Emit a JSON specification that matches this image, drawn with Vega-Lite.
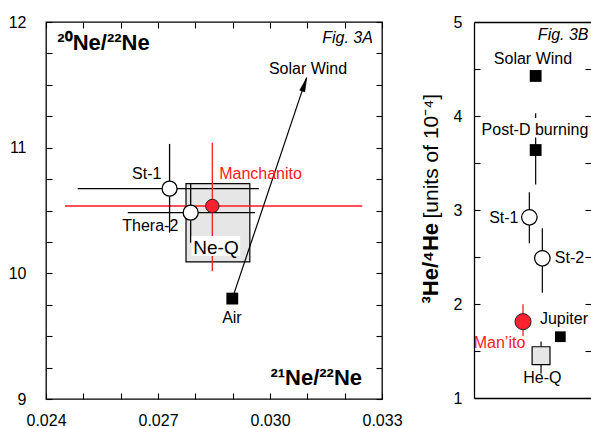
{
  "$schema": "https://vega.github.io/schema/vega-lite/v6.json",
  "padding": {"left": 7, "top": 13, "right": 0, "bottom": 0},
  "bounds": "flush",
  "spacing": 92,
  "config": {
    "font": "Liberation Sans",
    "axis": {"grid": false, "labelFontSize": 16, "labelColor": "black", "tickColor": "black", "domainColor": "black", "titleColor": "black", "labelFont": "Liberation Sans", "titleFont": "Liberation Sans", "tickWidth": 1.1}
  },
  "datasets": {
    "ne": [
      {"name": "St-1", "x": 0.02731, "y": 10.674, "xlo": 0.02485, "xhi": 0.0297, "ylo": 10.324, "yhi": 11.03},
      {"name": "Thera-2", "x": 0.027875, "y": 10.483, "xlo": 0.02619, "xhi": 0.0296, "ylo": 10.244, "yhi": 10.717},
      {"name": "Manchanito", "x": 0.028455, "y": 10.536, "xlo": 0.02451, "xhi": 0.03247, "ylo": 10.019, "yhi": 11.04},
      {"name": "Air", "x": 0.02899, "y": 9.799}
    ],
    "neq": [{"name": "Ne-Q", "x1": 0.02775, "x2": 0.02946, "y1": 10.091, "y2": 10.714}],
    "neqbg": [{"name": "Ne-Q", "x1": 0.0279, "x2": 0.0292, "y1": 10.138, "y2": 10.298}],
    "arrow": [{"o": 0, "x": 0.02899, "y": 9.799}, {"o": 1, "x": 0.03098, "y": 11.557}],
    "arrowhead": [{"x": 0.030924, "y": 11.504}],
    "nelab": [
      {"name": "St-1", "text": "St-1", "x": 0.026697, "y": 10.788},
      {"name": "Manchanito", "text": "Manchanito", "x": 0.029746, "y": 10.788},
      {"name": "Thera-2", "text": "Thera-2", "x": 0.026794, "y": 10.377},
      {"name": "Air", "text": "Air", "x": 0.02898, "y": 9.648},
      {"name": "Solar Wind", "text": "Solar Wind", "x": 0.031018, "y": 11.626}
    ],
    "neqlab": [{"text": "Ne-Q", "x": 0.028554, "y": 10.204}],
    "netitle": [
      {"text": "²⁰Ne/²²Ne", "x": 0.02554, "y": 11.833},
      {"text": "²¹Ne/²²Ne", "x": 0.031238, "y": 9.17}
    ],
    "nefig": [{"text": "Fig. 3A", "x": 0.032076, "y": 11.873}],
    "he": [
      {"name": "Solar Wind", "x": 0.527, "y": 4.426},
      {"name": "Post-D burning", "x": 0.527, "y": 3.638},
      {"name": "St-1", "x": 0.473, "y": 2.922},
      {"name": "St-2", "x": 0.584, "y": 2.486},
      {"name": "Man’ito", "x": 0.419, "y": 1.812},
      {"name": "Jupiter", "x": 0.738, "y": 1.652},
      {"name": "He-Q", "x": 0.573, "y": 1.45}
    ],
    "hebars": [
      {"name": "Post-D burning", "x": 0.527, "lo": 3.27, "hi": 3.77},
      {"name": "Post-D burning", "x": 0.527, "lo": 3.98, "hi": 4.03},
      {"name": "St-1", "x": 0.473, "lo": 2.646, "hi": 3.188},
      {"name": "St-2", "x": 0.584, "lo": 2.12, "hi": 2.805},
      {"name": "Man’ito", "x": 0.419, "lo": 1.66, "hi": 1.997},
      {"name": "He-Q", "x": 0.573, "lo": 1.26, "hi": 1.6}
    ],
    "helab": [
      {"name": "Solar Wind", "x": 0.504, "y": 4.61},
      {"name": "Post-D burning", "x": 0.521, "y": 3.851},
      {"name": "St-1", "x": 0.255, "y": 2.915},
      {"name": "St-2", "x": 0.816, "y": 2.486},
      {"name": "Man’ito", "x": 0.218, "y": 1.582},
      {"name": "Jupiter", "x": 0.769, "y": 1.837},
      {"name": "He-Q", "x": 0.584, "y": 1.21}
    ],
    "hefig": [{"text": "Fig. 3B", "x": 0.979, "y": 4.862}]
  },
  "hconcat": [
    {
      "width": 336,
      "height": 377,
      "view": {"stroke": "black", "strokeWidth": 1.3},
      "resolve": {"axis": {"x": "independent", "y": "independent"}},
      "layer": [
        {
          "data": {"name": "neq"},
          "mark": {"type": "rect", "fill": "#e6e6e6", "stroke": "black", "strokeWidth": 1.2},
          "encoding": {
            "x": {"field": "x1", "type": "quantitative", "scale": {"domain": [0.024, 0.033], "nice": false, "zero": false}, "axis": null},
            "x2": {"field": "x2"},
            "y": {"field": "y1", "type": "quantitative", "scale": {"domain": [9, 12], "nice": false, "zero": false}, "axis": null},
            "y2": {"field": "y2"}
          }
        },
        {
          "data": {"name": "ne"},
          "transform": [{"filter": "isValid(datum.xlo)"}],
          "mark": {"type": "rule", "strokeWidth": 1.3},
          "encoding": {
            "x": {"field": "xlo", "type": "quantitative", "scale": {"domain": [0.024, 0.033], "nice": false, "zero": false},
              "axis": {"orient": "bottom", "values": [0.024, 0.025, 0.026, 0.027, 0.028, 0.029, 0.03, 0.031, 0.032, 0.033], "labelExpr": "round(datum.value*1000) % 3 == 0 ? format(datum.value, '.3f') : ''", "tickSize": -6, "labelPadding": 19, "domain": false, "title": null, "labelFlush": false}},
            "x2": {"field": "xhi"},
            "y": {"field": "y", "type": "quantitative", "scale": {"domain": [9, 12], "nice": false, "zero": false},
              "axis": {"orient": "left", "values": [9, 9.25, 9.5, 9.75, 10, 10.25, 10.5, 10.75, 11, 11.25, 11.5, 11.75, 12], "labelExpr": "datum.value % 1 == 0 ? format(datum.value, 'd') : ''", "tickSize": -6, "labelPadding": 26, "domain": false, "title": null, "labelFlush": false}},
            "color": {"condition": {"test": "datum.name == 'Manchanito'", "value": "#ff1a22"}, "value": "black"}
          }
        },
        {
          "data": {"name": "ne"},
          "transform": [{"filter": "isValid(datum.ylo)"}],
          "mark": {"type": "rule", "strokeWidth": 1.3},
          "encoding": {
            "x": {"field": "x", "type": "quantitative", "scale": {"domain": [0.024, 0.033], "nice": false, "zero": false},
              "axis": {"orient": "top", "values": [0.024, 0.025, 0.026, 0.027, 0.028, 0.029, 0.03, 0.031, 0.032, 0.033], "labels": false, "tickSize": -6, "domain": false, "title": null}},
            "y": {"field": "ylo", "type": "quantitative", "scale": {"domain": [9, 12], "nice": false, "zero": false},
              "axis": {"orient": "right", "values": [9, 9.25, 9.5, 9.75, 10, 10.25, 10.5, 10.75, 11, 11.25, 11.5, 11.75, 12], "labels": false, "tickSize": -6, "domain": false, "title": null}},
            "y2": {"field": "yhi"},
            "color": {"condition": {"test": "datum.name == 'Manchanito'", "value": "#ff1a22"}, "value": "black"}
          }
        },
        {
          "data": {"name": "arrow"},
          "mark": {"type": "line", "color": "black", "strokeWidth": 1.2},
          "encoding": {
            "x": {"field": "x", "type": "quantitative", "axis": null},
            "y": {"field": "y", "type": "quantitative", "axis": null},
            "order": {"field": "o"}
          }
        },
        {
          "data": {"name": "arrowhead"},
          "mark": {"type": "point", "shape": "M0,-1L0.38,1L-0.38,1Z", "filled": true, "fill": "black", "stroke": "black", "strokeWidth": 0.5, "size": 200, "angle": 18.6, "opacity": 1},
          "encoding": {
            "x": {"field": "x", "type": "quantitative", "axis": null},
            "y": {"field": "y", "type": "quantitative", "axis": null}
          }
        },
        {
          "data": {"name": "neqbg"},
          "mark": {"type": "rect", "fill": "white"},
          "encoding": {
            "x": {"field": "x1", "type": "quantitative", "axis": null},
            "x2": {"field": "x2"},
            "y": {"field": "y1", "type": "quantitative", "axis": null},
            "y2": {"field": "y2"}
          }
        },
        {
          "data": {"name": "nelab"},
          "mark": {"type": "text", "fontSize": 16, "baseline": "middle", "align": "center"},
          "encoding": {
            "x": {"field": "x", "type": "quantitative", "axis": null},
            "y": {"field": "y", "type": "quantitative", "axis": null},
            "text": {"field": "text"},
            "color": {"condition": {"test": "datum.name == 'Manchanito'", "value": "#ff1a22"}, "value": "black"}
          }
        },
        {
          "data": {"name": "neqlab"},
          "mark": {"type": "text", "fontSize": 19, "baseline": "middle", "align": "center", "color": "black"},
          "encoding": {
            "x": {"field": "x", "type": "quantitative", "axis": null},
            "y": {"field": "y", "type": "quantitative", "axis": null},
            "text": {"field": "text"}
          }
        },
        {
          "data": {"name": "netitle"},
          "mark": {"type": "text", "fontSize": 22, "fontWeight": "bold", "baseline": "middle", "align": "center", "color": "black"},
          "encoding": {
            "x": {"field": "x", "type": "quantitative", "axis": null},
            "y": {"field": "y", "type": "quantitative", "axis": null},
            "text": {"field": "text"}
          }
        },
        {
          "data": {"name": "nefig"},
          "mark": {"type": "text", "fontSize": 16, "fontStyle": "italic", "baseline": "middle", "align": "center", "color": "black"},
          "encoding": {
            "x": {"field": "x", "type": "quantitative", "axis": null},
            "y": {"field": "y", "type": "quantitative", "axis": null},
            "text": {"field": "text"}
          }
        },
        {
          "data": {"name": "ne"},
          "transform": [{"filter": "datum.name == 'St-1' || datum.name == 'Thera-2'"}],
          "mark": {"type": "point", "shape": "circle", "filled": true, "fill": "white", "stroke": "black", "strokeWidth": 1.3, "size": 225, "opacity": 1},
          "encoding": {
            "x": {"field": "x", "type": "quantitative", "axis": null},
            "y": {"field": "y", "type": "quantitative", "axis": null}
          }
        },
        {
          "data": {"name": "ne"},
          "transform": [{"filter": "datum.name == 'Manchanito'"}],
          "mark": {"type": "point", "shape": "circle", "filled": true, "fill": "#ff2030", "stroke": "#222222", "strokeWidth": 1, "size": 180, "opacity": 1},
          "encoding": {
            "x": {"field": "x", "type": "quantitative", "axis": null},
            "y": {"field": "y", "type": "quantitative", "axis": null}
          }
        },
        {
          "data": {"name": "ne"},
          "transform": [{"filter": "datum.name == 'Air'"}],
          "mark": {"type": "point", "shape": "square", "filled": true, "fill": "black", "size": 140, "opacity": 1},
          "encoding": {
            "x": {"field": "x", "type": "quantitative", "axis": null},
            "y": {"field": "y", "type": "quantitative", "axis": null}
          }
        }
      ]
    },
    {
      "width": 117,
      "height": 376,
      "view": {"stroke": null},
      "resolve": {"axis": {"x": "independent", "y": "independent"}},
      "layer": [
        {
          "data": {"name": "hebars"},
          "transform": [{"filter": "datum.name != 'Man’ito'"}],
          "mark": {"type": "rule", "strokeWidth": 1.2, "color": "black"},
          "encoding": {
            "x": {"field": "x", "type": "quantitative", "scale": {"domain": [0, 1], "nice": false, "zero": false},
              "axis": {"orient": "bottom", "labels": false, "ticks": false, "domain": true, "domainWidth": 1.3, "title": null}},
            "y": {"field": "lo", "type": "quantitative", "scale": {"domain": [1, 5], "nice": false, "zero": false},
              "axis": {"orient": "left", "values": [1, 1.5, 2, 2.5, 3, 3.5, 4, 4.5, 5], "labelExpr": "datum.value % 1 == 0 ? format(datum.value, 'd') : ''", "tickSize": -6, "labelPadding": 18, "domain": true, "domainWidth": 1.3, "labelFlush": false,
                "title": "[units of 10⁻⁴]", "titleX": -37, "titleY": 196, "titleAlign": "left", "titleAngle": 270, "titleBaseline": "alphabetic", "titleFontWeight": "normal", "titleFontSize": 21}},
            "y2": {"field": "hi"}
          }
        },
        {
          "data": {"name": "hebars"},
          "transform": [{"filter": "datum.name == 'Man’ito'"}],
          "mark": {"type": "rule", "strokeWidth": 1.3, "color": "#ff1a22"},
          "encoding": {
            "x": {"field": "x", "type": "quantitative", "scale": {"domain": [0, 1], "nice": false, "zero": false},
              "axis": {"orient": "top", "labels": false, "ticks": false, "domain": true, "domainWidth": 1.3, "title": null}},
            "y": {"field": "lo", "type": "quantitative", "scale": {"domain": [1, 5], "nice": false, "zero": false},
              "axis": {"orient": "left", "labels": false, "ticks": false, "domain": false,
                "title": "³He/⁴He", "titleX": -37, "titleY": 281, "titleAlign": "left", "titleAngle": 270, "titleBaseline": "alphabetic", "titleFontWeight": "bold", "titleFontSize": 22}},
            "y2": {"field": "hi"}
          }
        },
        {
          "data": {"name": "he"},
          "transform": [{"filter": "datum.name == 'Solar Wind' || datum.name == 'Post-D burning'"}],
          "mark": {"type": "point", "shape": "square", "filled": true, "fill": "black", "size": 140, "opacity": 1},
          "encoding": {
            "x": {"field": "x", "type": "quantitative", "axis": null},
            "y": {"field": "y", "type": "quantitative",
              "axis": {"orient": "right", "values": [1, 1.5, 2, 2.5, 3, 3.5, 4, 4.5, 5], "labels": false, "tickSize": -6, "domain": false, "title": null}}
          }
        },
        {
          "data": {"name": "he"},
          "transform": [{"filter": "datum.name == 'Jupiter'"}],
          "mark": {"type": "point", "shape": "square", "filled": true, "fill": "black", "size": 115, "opacity": 1},
          "encoding": {
            "x": {"field": "x", "type": "quantitative", "axis": null},
            "y": {"field": "y", "type": "quantitative", "axis": null}
          }
        },
        {
          "data": {"name": "he"},
          "transform": [{"filter": "datum.name == 'St-1' || datum.name == 'St-2'"}],
          "mark": {"type": "point", "shape": "circle", "filled": true, "fill": "white", "stroke": "black", "strokeWidth": 1.3, "size": 240, "opacity": 1},
          "encoding": {
            "x": {"field": "x", "type": "quantitative", "axis": null},
            "y": {"field": "y", "type": "quantitative", "axis": null}
          }
        },
        {
          "data": {"name": "he"},
          "transform": [{"filter": "datum.name == 'Man’ito'"}],
          "mark": {"type": "point", "shape": "circle", "filled": true, "fill": "#ff2030", "stroke": "#222222", "strokeWidth": 1, "size": 260, "opacity": 1},
          "encoding": {
            "x": {"field": "x", "type": "quantitative", "axis": null},
            "y": {"field": "y", "type": "quantitative", "axis": null}
          }
        },
        {
          "data": {"name": "he"},
          "transform": [{"filter": "datum.name == 'He-Q'"}],
          "mark": {"type": "point", "shape": "square", "filled": true, "fill": "#e6e6e6", "stroke": "black", "strokeWidth": 1.2, "size": 320, "opacity": 1},
          "encoding": {
            "x": {"field": "x", "type": "quantitative", "axis": null},
            "y": {"field": "y", "type": "quantitative", "axis": null}
          }
        },
        {
          "data": {"name": "helab"},
          "mark": {"type": "text", "fontSize": 16, "baseline": "middle", "align": "center", "clip": true},
          "encoding": {
            "x": {"field": "x", "type": "quantitative", "axis": null},
            "y": {"field": "y", "type": "quantitative", "axis": null},
            "text": {"field": "name"},
            "color": {"condition": {"test": "datum.name == 'Man’ito'", "value": "#ff1a22"}, "value": "black"}
          }
        },
        {
          "data": {"name": "hefig"},
          "mark": {"type": "text", "fontSize": 16, "fontStyle": "italic", "baseline": "middle", "align": "right", "color": "black", "clip": true},
          "encoding": {
            "x": {"field": "x", "type": "quantitative", "axis": null},
            "y": {"field": "y", "type": "quantitative", "axis": null},
            "text": {"field": "text"}
          }
        }
      ]
    }
  ]
}
